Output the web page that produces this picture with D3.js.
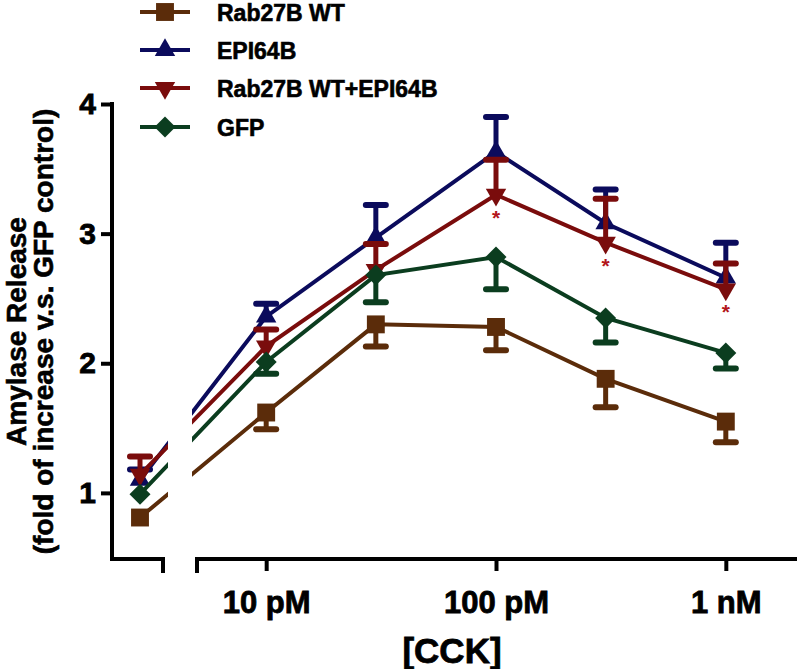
<!DOCTYPE html>
<html>
<head>
<meta charset="utf-8">
<script src="https://cdn.jsdelivr.net/npm/d3@7"></script>
<style>
  html, body { margin: 0; padding: 0; background: #fff; }
  svg { display: block; }
  text { font-family: "Liberation Sans", Arial, sans-serif; font-weight: bold; }
</style>
</head>
<body>
<svg id="chart" width="798" height="669"></svg>
<script>
// ---------- data ----------
const categories = ["Control", 10, 30, 100, 300, 1000]; // CCK, pM
const seriesNames = ["Rab27B WT", "EPI64B", "Rab27B WT+EPI64B", "GFP"];
const rab27bWT    = [0.81, 1.62, 2.30, 2.28, 1.88, 1.55];
const rab27bWTErr = [0.00, 0.13, 0.17, 0.18, 0.22, 0.16];
const epi64b      = [1.10, 2.36, 2.97, 3.63, 3.08, 2.66];
const epi64bErr   = [0.08, 0.10, 0.25, 0.27, 0.26, 0.27];
const rabEpi      = [1.14, 2.13, 2.72, 3.30, 2.93, 2.57];
const rabEpiErr   = [0.14, 0.13, 0.20, 0.27, 0.34, 0.20];
const gfp         = [0.99, 2.01, 2.68, 2.82, 2.35, 2.08];
const gfpErr      = [0.00, 0.09, 0.21, 0.25, 0.19, 0.12];
const rabEpiSignificant = [false, false, false, true, true, true];
const xTickValues = [10, 100, 1000];
const xTickLabels = ["10 pM", "100 pM", "1 nM"];
const yTickValues = [1, 2, 3, 4];

// ---------- styles ----------
const colors = ["#5b2c0a", "#0b0b5c", "#7a0c0c", "#0b3d1f"];
const errDir = [1, -1, -1, 1]; // 1 = below, -1 = above
const shapes = ["square", "triangleUp", "triangleDown", "diamond"];
const seriesValues = [rab27bWT, epi64b, rabEpi, gfp];
const seriesErrors = [rab27bWTErr, epi64bErr, rabEpiErr, gfpErr];

const svg = d3.select("#chart");

// ---------- scales ----------
const y = d3.scaleLinear().domain([0.49, 4]).range([559, 104]);
const xLog = d3.scaleLog().domain([5, 2000]).range([197, 795]);
const xCtrl = d3.scalePoint().domain(["Control"]).range([112, 168]).padding(0.5);
const xPos = c => (c === "Control" ? xCtrl(c) : xLog(c));

function heavy(sel, sw) {
  sel.attr("stroke", "#000").attr("stroke-width", sw).attr("paint-order", "stroke");
}

// ---------- axes ----------
const yAxis = d3.axisLeft(y).tickValues(yTickValues).tickFormat(d3.format("d"))
  .tickSize(11).tickPadding(5).tickSizeOuter(0);
const gy = svg.append("g").attr("transform", "translate(112,0)").call(yAxis);
gy.select(".domain").remove();
gy.selectAll(".tick line").attr("stroke", "#000").attr("stroke-width", 4);
gy.selectAll(".tick text").attr("font-size", 30).attr("fill", "#000")
  .style("font-family", '"Liberation Sans", Arial, sans-serif').style("font-weight", "bold")
  .call(heavy, 0.8);

const xAxis = d3.axisBottom(xLog).tickValues(xTickValues)
  .tickFormat((d, i) => xTickLabels[i]).tickSize(12).tickPadding(20).tickSizeOuter(0);
const gx = svg.append("g").attr("transform", "translate(0,559)").call(xAxis);
gx.select(".domain").remove();
gx.selectAll(".tick line").attr("stroke", "#000").attr("stroke-width", 4);
gx.selectAll(".tick text").attr("font-size", 31).attr("fill", "#000")
  .style("font-family", '"Liberation Sans", Arial, sans-serif').style("font-weight", "bold")
  .call(heavy, 0.8);

const [r0, r1] = xLog.range();
const [yb, yt] = y.range();
const [c0, c1] = xCtrl.range();
svg.append("path")
  .attr("d", `M${c0},${yt}V${yb}H${c0 + 51}V${yb + 12}`)
  .attr("fill", "none").attr("stroke", "#000").attr("stroke-width", 4)
  .attr("stroke-linejoin", "miter").attr("stroke-linecap", "square");
svg.append("path")
  .attr("d", `M${r0},${yb + 12}V${yb}H${r1}`)
  .attr("fill", "none").attr("stroke", "#000").attr("stroke-width", 4)
  .attr("stroke-linecap", "square");

// ---------- clip for broken lines ----------
const defs = svg.append("defs");
const cp = defs.append("clipPath").attr("id", "gapclip");
cp.append("rect").attr("x", 0).attr("y", 0).attr("width", 168).attr("height", 669);
cp.append("rect").attr("x", 192).attr("y", 0).attr("width", 606).attr("height", 669);

function symbolPath(shape) {
  if (shape === "square") return d3.symbol(d3.symbolSquare, 320)();
  if (shape === "diamond") return d3.symbol(d3.symbolSquare, 220)();
  return d3.symbol(d3.symbolTriangle, 180)();
}
function symbolRotate(shape) {
  if (shape === "diamond") return 45;
  if (shape === "triangleDown") return 180;
  return 0;
}

const line = d3.line().x(d => xPos(d.c)).y(d => y(d.v));

seriesValues.forEach((vals, si) => {
  const color = colors[si];
  const pts = categories.map((c, i) => ({ c, v: vals[i], e: seriesErrors[si][i] }));
  const g = svg.append("g");

  g.append("path").datum(pts).attr("d", line)
    .attr("fill", "none").attr("stroke", color).attr("stroke-width", 4)
    .attr("clip-path", "url(#gapclip)");

  pts.forEach(p => {
    if (p.e <= 0) return;
    const xx = xPos(p.c);
    const yEnd = y(p.v - errDir[si] * p.e);
    g.append("line").attr("x1", xx).attr("x2", xx).attr("y1", y(p.v)).attr("y2", yEnd)
      .attr("stroke", color).attr("stroke-width", 5);
    g.append("line").attr("x1", xx - 10).attr("x2", xx + 10).attr("y1", yEnd).attr("y2", yEnd)
      .attr("stroke", color).attr("stroke-width", 6).attr("stroke-linecap", "round");
  });

  g.selectAll("path.marker").data(pts).enter().append("path")
    .attr("class", "marker")
    .attr("d", symbolPath(shapes[si]))
    .attr("transform", d => `translate(${xPos(d.c)},${y(d.v)}) rotate(${symbolRotate(shapes[si])})`)
    .attr("fill", color);
});

// significance stars
svg.append("g").selectAll("text").data(categories.map((c, i) => ({ c, v: rabEpi[i], s: rabEpiSignificant[i] })).filter(d => d.s))
  .enter().append("text")
  .attr("x", d => xPos(d.c))
  .attr("y", d => y(d.v) + 30)
  .attr("text-anchor", "middle")
  .attr("font-size", 21).attr("fill", "#b3161b")
  .text("*");

// ---------- legend ----------
const legendY = [12, 50, 88, 127];
const leg = svg.append("g");
seriesNames.forEach((name, i) => {
  const ly = legendY[i];
  leg.append("line").attr("x1", 140).attr("x2", 190).attr("y1", ly).attr("y2", ly)
    .attr("stroke", colors[i]).attr("stroke-width", 4);
  leg.append("path").attr("d", symbolPath(shapes[i]))
    .attr("transform", `translate(165,${ly}) rotate(${symbolRotate(shapes[i])})`)
    .attr("fill", colors[i]);
  leg.append("text").attr("x", 217).attr("y", ly + 8.5).attr("font-size", 23).attr("fill", "#000")
    .text(name).call(heavy, 0.6);
});

// ---------- axis titles ----------
svg.append("text").attr("x", 452).attr("y", 663).attr("text-anchor", "middle")
  .attr("font-size", 35).attr("fill", "#000").text("[CCK]").call(heavy, 0.8);
const ycenter = (yt + yb) / 2;
svg.append("text").attr("transform", `translate(26,${ycenter}) rotate(-90)`)
  .attr("text-anchor", "middle").attr("font-size", 28).attr("fill", "#000")
  .text("Amylase Release").call(heavy, 0.6);
svg.append("text").attr("transform", `translate(53,${ycenter}) rotate(-90)`)
  .attr("text-anchor", "middle").attr("font-size", 28).attr("fill", "#000")
  .text("(fold of increase v.s. GFP control)").call(heavy, 0.6);
</script>
</body>
</html>
